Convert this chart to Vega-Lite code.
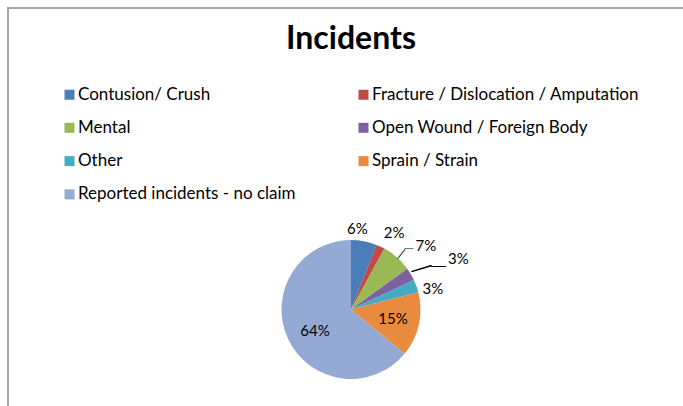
{
  "$schema": "https://vega.github.io/schema/vega-lite/v6.json",
  "width": 686,
  "height": 603,
  "autosize": "none",
  "padding": {"left": 8, "top": 8, "right": 0, "bottom": 0},
  "background": "white",
  "view": {"stroke": "#a6a6a6", "strokeWidth": 2},
  "config": {
    "view": {"stroke": "#a6a6a6", "strokeWidth": 2},
    "style": {"view": {"stroke": "#a6a6a6", "strokeWidth": 2}, "cell": {"stroke": "#a6a6a6", "strokeWidth": 2}},
    "font": "Lato"
  },
  "title": {"text": "Incidents", "font": "Lato", "fontSize": 32, "fontWeight": "bold", "color": "#000000", "anchor": "middle", "frame": "group", "baseline": "alphabetic", "offset": -28, "dy": 45},
  "data": {"values": [
    {"idx": 1, "cat": "Contusion/ Crush", "value": 6, "label": "6%"},
    {"idx": 2, "cat": "Fracture / Dislocation / Amputation", "value": 2, "label": "2%"},
    {"idx": 3, "cat": "Mental", "value": 7, "label": "7%"},
    {"idx": 4, "cat": "Open Wound / Foreign Body", "value": 3, "label": "3%"},
    {"idx": 5, "cat": "Other", "value": 3, "label": "3%"},
    {"idx": 6, "cat": "Sprain / Strain", "value": 15, "label": "15%"},
    {"idx": 7, "cat": "Reported incidents - no claim", "value": 64, "label": "64%"}
  ]},
  "encoding": {
    "theta": {"field": "value", "type": "quantitative", "stack": true},
    "order": {"field": "idx", "type": "quantitative"}
  },
  "layer": [
    {
      "mark": {"type": "arc", "outerRadius": 69.5},
      "encoding": {
        "color": {
          "field": "cat", "type": "nominal",
          "scale": {
            "domain": ["Contusion/ Crush", "Mental", "Other", "Reported incidents - no claim", "Fracture / Dislocation / Amputation", "Open Wound / Foreign Body", "Sprain / Strain"],
            "range": ["#4A7EBB", "#98B954", "#46AAC5", "#94AAD4", "#BE4B48", "#7D60A0", "#E98B3F"]
          },
          "legend": {
            "title": null, "orient": "none", "legendX": 53, "legendY": 78, "columns": 2,
            "symbolType": "square", "symbolSize": 100, "symbolStrokeWidth": 0,
            "labelFont": "Lato", "labelFontSize": 17, "labelColor": "#000000", "labelOffset": 0,
            "labelLimit": 400, "rowPadding": 15.3, "columnPadding": 59, "padding": 0
          }
        }
      }
    },
    {
      "mark": {"type": "text", "radius": 82, "dx": -9, "font": "Lato", "fontSize": 15, "color": "#000000"},
      "encoding": {"text": {"condition": {"test": "datum.idx == 1", "field": "label"}, "value": ""}}
    },
    {
      "mark": {"type": "text", "radius": 85, "dx": 7, "font": "Lato", "fontSize": 15, "color": "#000000"},
      "encoding": {"text": {"condition": {"test": "datum.idx == 2", "field": "label"}, "value": ""}}
    },
    {
      "mark": {"type": "text", "radius": 98, "dx": 10, "dy": 10, "font": "Lato", "fontSize": 15, "color": "#000000"},
      "encoding": {"text": {"condition": {"test": "datum.idx == 3", "field": "label"}, "value": ""}}
    },
    {
      "mark": {"type": "text", "radius": 119, "dx": 5, "dy": 10, "font": "Lato", "fontSize": 15, "color": "#000000"},
      "encoding": {"text": {"condition": {"test": "datum.idx == 4", "field": "label"}, "value": ""}}
    },
    {
      "mark": {"type": "text", "radius": 85, "dx": 2, "dy": 8, "font": "Lato", "fontSize": 15, "color": "#000000"},
      "encoding": {"text": {"condition": {"test": "datum.idx == 5", "field": "label"}, "value": ""}}
    },
    {
      "mark": {"type": "text", "radius": 43, "font": "Lato", "fontSize": 15, "color": "#000000"},
      "encoding": {"text": {"condition": {"test": "datum.idx == 6", "field": "label"}, "value": ""}}
    },
    {
      "mark": {"type": "text", "radius": 43, "dx": 3, "dy": 3, "font": "Lato", "fontSize": 15, "color": "#000000"},
      "encoding": {"text": {"condition": {"test": "datum.idx == 7", "field": "label"}, "value": ""}}
    },
    {
      "mark": {"type": "text", "radius": 75, "angle": -52, "font": "Liberation Sans", "fontSize": 12, "color": "#000000"},
      "encoding": {"text": {"condition": {"test": "datum.idx == 3", "value": "—"}, "value": ""}}
    },
    {
      "mark": {"type": "text", "radius": 82, "dx": 3.5, "dy": 0.5, "font": "Liberation Sans", "fontSize": 9, "color": "#000000"},
      "encoding": {"text": {"condition": {"test": "datum.idx == 3", "value": "—"}, "value": ""}}
    },
    {
      "mark": {"type": "text", "radius": 81.6, "angle": -17, "font": "Liberation Sans", "fontSize": 21, "color": "#000000"},
      "encoding": {"text": {"condition": {"test": "datum.idx == 4", "value": "—"}, "value": ""}}
    },
    {
      "mark": {"type": "text", "radius": 100, "dx": 1.4, "dy": 6, "font": "Liberation Sans", "fontSize": 15, "color": "#000000"},
      "encoding": {"text": {"condition": {"test": "datum.idx == 4", "value": "—"}, "value": ""}}
    }
  ]
}
